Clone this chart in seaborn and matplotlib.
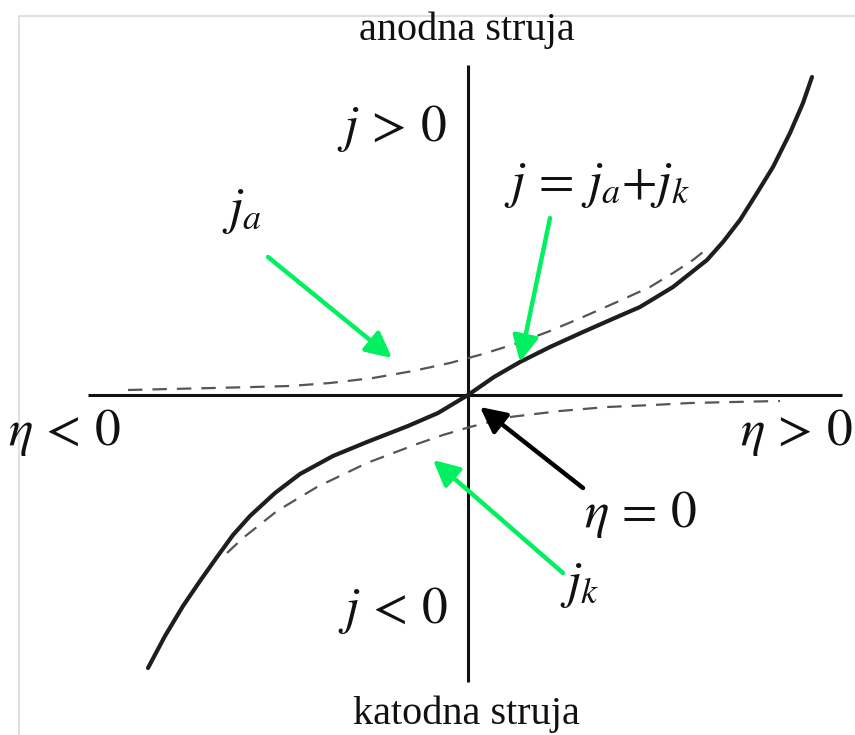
import numpy as np
import pandas as pd
import matplotlib
matplotlib.use("Agg")
import matplotlib.pyplot as plt
import seaborn as sns

# ---- data (units: 1 = 100 px, origin at the axes crossing) ----
# total current j = ja + jk (solid)
j_eta = [-3.20, -3.03, -2.85, -2.68, -2.51, -2.35, -2.18, -1.93, -1.68, -1.35, -1.01, -0.60, -0.30, 0.00,
         0.26, 0.52, 0.82, 1.15, 1.49, 1.72, 2.05, 2.39, 2.55, 2.72, 2.89, 3.05, 3.22, 3.35, 3.44]
j_val = [-2.73, -2.41, -2.11, -1.86, -1.62, -1.40, -1.21, -0.98, -0.79, -0.61, -0.47, -0.31, -0.18, 0.00,
         0.18, 0.33, 0.48, 0.63, 0.78, 0.88, 1.08, 1.35, 1.53, 1.75, 2.02, 2.28, 2.62, 2.92, 3.18]
# anodic partial current ja (dashed)
ja_eta = [-3.40, -2.98, -2.55, -2.15, -1.78, -1.38, -0.95, -0.55, -0.18, 0.15, 0.50, 0.82, 1.15, 1.49,
          1.82, 2.05, 2.25, 2.40]
ja_val = [0.05, 0.06, 0.07, 0.08, 0.09, 0.12, 0.17, 0.24, 0.32, 0.41, 0.52, 0.64, 0.78, 0.93,
          1.08, 1.22, 1.35, 1.47]
# cathodic partial current jk (dashed)
jk_eta = [-2.41, -2.25, -1.91, -1.51, -1.01, -0.51, -0.25, 0.02, 0.42, 0.92, 1.39, 1.85, 2.22, 2.65, 3.12]
jk_val = [-1.58, -1.43, -1.16, -0.92, -0.68, -0.49, -0.40, -0.32, -0.22, -0.16, -0.12, -0.10, -0.08, -0.07, -0.06]

labels = {
    "top": "anodna struja",
    "bottom": "katodna struja",
    "jpos": r"$j\,>\,0$",
    "jneg": r"$j\,<\,0$",
    "etaneg": r"$\eta\,<\,0$",
    "etapos": r"$\eta\,>\,0$",
    "eta0": r"$\eta\,=\,0$",
    "ja": r"$j_a$",
    "jk": r"$j_k$",
    "jsum": r"$j\,=\,j_a{+}j_k$",
}

sns.set_theme(style="white")
plt.rcParams["font.family"] = ["Liberation Serif", "DejaVu Serif"]
plt.rcParams["mathtext.fontset"] = "stix"

fig = plt.figure(figsize=(8.55, 7.35), dpi=100)
ax = fig.add_axes([0, 0, 1, 1])
ax.set_xlim(-4.68, 3.87)
ax.set_ylim(-3.40, 3.95)
ax.axis("off")

# faint frame of the original picture
ax.plot([-4.49, -4.49, 3.95], [-3.5, 3.79, 3.79], color="#dcdcdc", lw=1.3, zorder=0)

# coordinate axes
ax.hlines(0, -3.80, 3.74, color="#111111", lw=2.2, zorder=2)
ax.vlines(0, -2.87, 3.30, color="#111111", lw=2.2, zorder=2)

df_j = pd.DataFrame({"eta": j_eta, "j": j_val})
df_a = pd.DataFrame({"eta": ja_eta, "j": ja_val})
df_k = pd.DataFrame({"eta": jk_eta, "j": jk_val})

dash = (0, (6.5, 4.5))
sns.lineplot(data=df_a, x="eta", y="j", ax=ax, sort=False, estimator=None,
             color="#555555", lw=1.6, linestyle=dash, zorder=3)
sns.lineplot(data=df_k, x="eta", y="j", ax=ax, sort=False, estimator=None,
             color="#555555", lw=1.6, linestyle=dash, zorder=3)
sns.lineplot(data=df_j, x="eta", y="j", ax=ax, sort=False, estimator=None,
             color="#1e1e1e", lw=3.0, zorder=4, solid_capstyle="round", solid_joinstyle="round")

# text
ax.text(-0.01, 3.65, labels["top"], ha="center", va="center", fontsize=29, color="#111111")
ax.text(-0.02, -3.19, labels["bottom"], ha="center", va="center", fontsize=29, color="#111111")

mfs = 37
ax.text(-0.76, 2.67, labels["jpos"], ha="center", va="center", fontsize=mfs, color="#111111")
ax.text(-0.75, -2.15, labels["jneg"], ha="center", va="center", fontsize=mfs, color="#111111")
ax.text(-4.03, -0.37, labels["etaneg"], ha="center", va="center", fontsize=mfs, color="#111111")
ax.text(3.29, -0.37, labels["etapos"], ha="center", va="center", fontsize=mfs, color="#111111")
ax.text(1.73, -1.20, labels["eta0"], ha="center", va="center", fontsize=mfs, color="#111111")
ax.text(-2.26, 1.83, labels["ja"], ha="center", va="center", fontsize=mfs, color="#111111")
ax.text(1.12, -1.90, labels["jk"], ha="center", va="center", fontsize=mfs, color="#111111")
ax.text(1.29, 2.10, labels["jsum"], ha="center", va="center", fontsize=mfs, color="#111111")

# arrows (tail -> head)
green = "#00f060"
arrows = [
    ((-2.00, 1.38), (-0.76, 0.37), green),
    ((0.82, 1.77), (0.52, 0.33), green),
    ((0.95, -1.78), (-0.35, -0.65), green),
    ((1.15, -0.93), (0.12, -0.12), "#000000"),
]
for tail, head, c in arrows:
    ax.annotate("", xy=head, xytext=tail,
                arrowprops=dict(arrowstyle="-|>,head_length=1.3,head_width=0.65",
                                color=c, lw=3.2, shrinkA=0, shrinkB=0),
                zorder=5)

fig.savefig("out.png", dpi=100)
